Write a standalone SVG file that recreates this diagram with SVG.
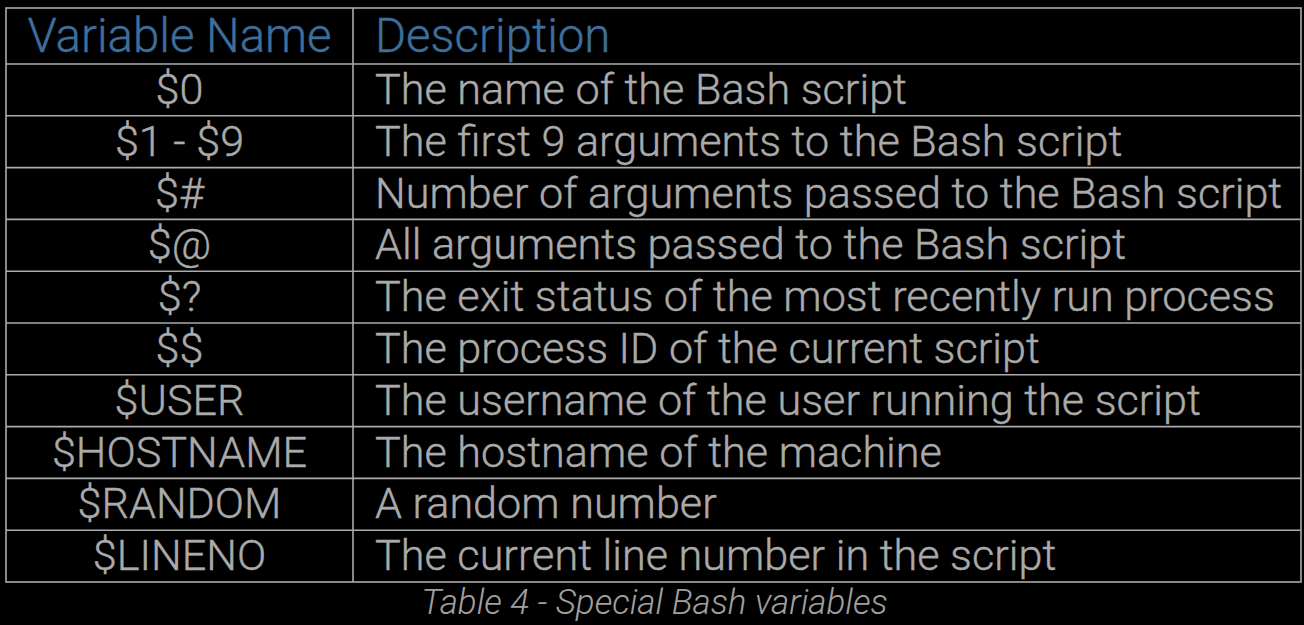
<svg xmlns="http://www.w3.org/2000/svg" width="1304" height="625" viewBox="0 0 1304 625">
<style>
.h{font-family:Roboto,"Liberation Sans",sans-serif;font-weight:300;font-size:47.4px;fill:#3d6f9c;stroke:#3d6f9c;stroke-width:0.4}
.v{font-family:Roboto,"Liberation Sans",sans-serif;font-weight:300;font-size:43.2px;fill:#aaaaaa;stroke:#aaaaaa;stroke-width:0.4;text-anchor:middle}
.d{font-family:Roboto,"Liberation Sans",sans-serif;font-weight:300;font-size:43.2px;fill:#aaaaaa;stroke:#aaaaaa;stroke-width:0.4}
.g{stroke:#ababab;stroke-width:1.6;fill:none}
.c{font-family:Roboto,"Liberation Sans",sans-serif;font-weight:300;font-style:italic;font-size:35px;fill:#a0a0a0;text-anchor:middle}
</style>
<rect width="1304" height="625" fill="#000"/>
<g id="grid" class="g">
<rect x="6" y="8" width="1295" height="574"/>
<line x1="353" y1="8" x2="353" y2="582"/>
<line x1="6" y1="64" x2="1301" y2="64"/>
<line x1="6" y1="115.8" x2="1301" y2="115.8"/>
<line x1="6" y1="167.6" x2="1301" y2="167.6"/>
<line x1="6" y1="219.4" x2="1301" y2="219.4"/>
<line x1="6" y1="271.2" x2="1301" y2="271.2"/>
<line x1="6" y1="323" x2="1301" y2="323"/>
<line x1="6" y1="374.8" x2="1301" y2="374.8"/>
<line x1="6" y1="426.6" x2="1301" y2="426.6"/>
<line x1="6" y1="478.4" x2="1301" y2="478.4"/>
<line x1="6" y1="530.2" x2="1301" y2="530.2"/>
</g>
<g id="header">
<text class="h" x="179.5" y="52" text-anchor="middle">Variable Name</text>
<text class="h" x="375" y="52">Description</text>
</g>
<g id="row1"><text class="v" x="179.5" y="104">$0</text><text class="d" x="375" y="104">The name of the Bash script</text></g>
<g id="row2"><text class="v" x="179.5" y="155.8">$1 - $9</text><text class="d" x="375" y="155.8">The first 9 arguments to the Bash script</text></g>
<g id="row3"><text class="v" x="179.5" y="207.6">$#</text><text class="d" x="375" y="207.6">Number of arguments passed to the Bash script</text></g>
<g id="row4"><text class="v" x="179.5" y="259.4">$@</text><text class="d" x="375" y="259.4">All arguments passed to the Bash script</text></g>
<g id="row5"><text class="v" x="179.5" y="311.2">$?</text><text class="d" x="375" y="311.2">The exit status of the most recently run process</text></g>
<g id="row6"><text class="v" x="179.5" y="363">$$</text><text class="d" x="375" y="363">The process ID of the current script</text></g>
<g id="row7"><text class="v" x="179.5" y="414.8">$USER</text><text class="d" x="375" y="414.8">The username of the user running the script</text></g>
<g id="row8"><text class="v" x="179.5" y="466.6">$HOSTNAME</text><text class="d" x="375" y="466.6">The hostname of the machine</text></g>
<g id="row9"><text class="v" x="179.5" y="518.4">$RANDOM</text><text class="d" x="375" y="518.4">A random number</text></g>
<g id="row10"><text class="v" x="179.5" y="570.2">$LINENO</text><text class="d" x="375" y="570.2">The current line number in the script</text></g>
<text id="caption" class="c" x="654.5" y="614">Table 4 - Special Bash variables</text>
</svg>
